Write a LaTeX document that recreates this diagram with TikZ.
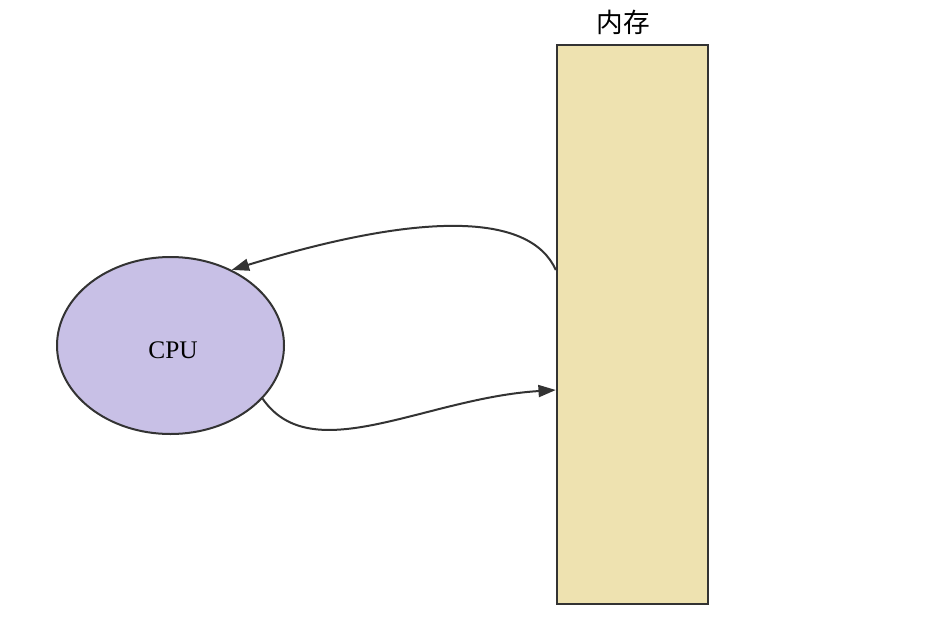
\documentclass[tikz,border=0pt]{standalone}
\usepackage{fontspec}
\setmainfont{Liberation Serif}
\newfontfamily\cjk{Noto Sans CJK SC}
\usetikzlibrary{arrows.meta,shapes.geometric}
\definecolor{cpufill}{RGB}{200,192,230}
\definecolor{memfill}{RGB}{238,226,176}
\definecolor{stroke}{RGB}{51,51,51}
\tikzset{
  cpunode/.style={ellipse, draw=stroke, fill=cpufill, line width=1.5pt, minimum width=170.25pt, minimum height=132.75pt, inner sep=0pt},
  memnode/.style={rectangle, draw=stroke, fill=memfill, line width=1.8pt, minimum width=113.25pt, minimum height=419.25pt, inner sep=0pt},
  flow/.style={draw=stroke, line width=1.5pt, -{Triangle[length=13pt,width=9pt]}},
}
\begin{document}
\begin{tikzpicture}[x=0.75pt,y=-0.75pt]
\useasboundingbox (0,0) rectangle (931,639);
\node[cpunode] (cpu) at (170.5,345.5) {};
\node[font=\fontsize{19}{22}\selectfont] (cpulabel) at (173,350) {CPU};
\node[memnode] (mem) at (632.5,324.5) {};
\node[font=\cjk\fontsize{20}{24}\selectfont] (memlabel) at (623,22) {内存};
\coordinate (out) at ([shift={(0,-54.5)}]mem.west);
\coordinate (in) at ([shift={(0,65.5)}]mem.west);
\draw[flow] (out) .. controls (530,212) and (420,212) .. (cpu.51.6);
\draw[flow] (cpu.-30.2) .. controls (312,470) and (425,398) .. (in);
\end{tikzpicture}
\end{document}
